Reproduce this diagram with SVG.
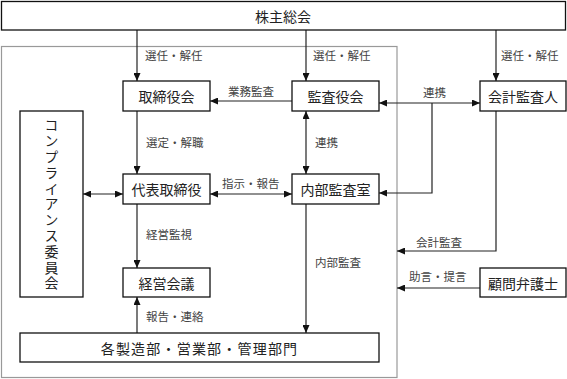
<svg xmlns="http://www.w3.org/2000/svg" width="567" height="379" viewBox="0 0 567 379">
<style>
.box{fill:#fff;stroke:#111;stroke-width:1.3}
.frame{fill:none;stroke:#999;stroke-width:1.2}
.bt{font-family:"Noto Sans CJK JP","Noto Sans",sans-serif;font-size:14px;fill:#222;text-anchor:middle;dominant-baseline:central}
.vt{font-family:"Noto Sans CJK JP","Noto Sans",sans-serif;font-size:14px;fill:#222;writing-mode:vertical-rl;text-anchor:start;letter-spacing:1.8px}
.lb{font-family:"Noto Sans CJK JP","Noto Sans",sans-serif;font-size:11.5px;fill:#444;dominant-baseline:central}
.ln{fill:none;stroke:#222;stroke-width:1.2}
.a{marker-end:url(#ah)}
.b{marker-end:url(#ah);marker-start:url(#ah)}
</style>
<defs>
<marker id="ah" markerUnits="userSpaceOnUse" markerWidth="8" markerHeight="7" refX="8" refY="3.5" orient="auto-start-reverse">
<path d="M0,0 L8,3.5 L0,7 z" fill="#111"/>
</marker>
</defs>
<rect class="frame" x="1.5" y="46.5" width="395.5" height="331"/>
<g id="connectors">
<path class="ln a" d="M137,30 V81"/>
<path class="ln a" d="M306,30 V81"/>
<path class="ln a" d="M496,30 V81"/>
<path class="ln a" d="M292,101 H210"/>
<path class="ln b" d="M379,103 H480"/>
<path class="ln a" d="M432,103 V193 H379"/>
<path class="ln a" d="M137,111 V174"/>
<path class="ln b" d="M306,111 V174"/>
<path class="ln b" d="M83,194 H123"/>
<path class="ln b" d="M210,194 H292"/>
<path class="ln a" d="M137,204 V268"/>
<path class="ln a" d="M306,204 V333"/>
<path class="ln a" d="M137,333 V297"/>
<path class="ln a" d="M496,111 V251 H397"/>
<path class="ln a" d="M480,288 H397"/>
<text class="lb" x="145" y="55">選任・解任</text>
<text class="lb" x="313" y="55">選任・解任</text>
<text class="lb" x="501" y="55">選任・解任</text>
<text class="lb" x="228" y="91">業務監査</text>
<text class="lb" x="423" y="92">連携</text>
<text class="lb" x="146" y="142">選定・解職</text>
<text class="lb" x="315" y="142">連携</text>
<text class="lb" x="222" y="183">指示・報告</text>
<text class="lb" x="146" y="234">経営監視</text>
<text class="lb" x="315" y="262">内部監査</text>
<text class="lb" x="416" y="242">会計監査</text>
<text class="lb" x="409" y="276">助言・提言</text>
<text class="lb" x="146" y="316">報告・連絡</text>
</g>
<g id="n-shareholders">
<rect class="box" x="1.5" y="1.5" width="564" height="28.5"/>
<text class="bt" x="283" y="16">株主総会</text>
</g>
<g id="n-board">
<rect class="box" x="123" y="81" width="87" height="30"/>
<text class="bt" x="166.5" y="96">取締役会</text>
</g>
<g id="n-auditors">
<rect class="box" x="292" y="81" width="87" height="30"/>
<text class="bt" x="335.5" y="96">監査役会</text>
</g>
<g id="n-accounting">
<rect class="box" x="480" y="81" width="86" height="30"/>
<text class="bt" x="523" y="96">会計監査人</text>
</g>
<g id="n-compliance">
<rect class="box" x="20" y="111" width="63" height="186"/>
<text class="vt" x="51.5" y="118">コンプライアンス委員会</text>
</g>
<g id="n-ceo">
<rect class="box" x="123" y="174" width="87" height="30"/>
<text class="bt" x="166.5" y="189">代表取締役</text>
</g>
<g id="n-internal">
<rect class="box" x="292" y="174" width="87" height="30"/>
<text class="bt" x="335.5" y="189">内部監査室</text>
</g>
<g id="n-management">
<rect class="box" x="123" y="268" width="87" height="29"/>
<text class="bt" x="166.5" y="282.5">経営会議</text>
</g>
<g id="n-counsel">
<rect class="box" x="480" y="268" width="86" height="29"/>
<text class="bt" x="523" y="282.5">顧問弁護士</text>
</g>
<g id="n-departments">
<rect class="box" x="20" y="333" width="359" height="29"/>
<text class="bt" x="199.5" y="347.5" style="letter-spacing:1.2px">各製造部・営業部・管理部門</text>
</g>
</svg>
